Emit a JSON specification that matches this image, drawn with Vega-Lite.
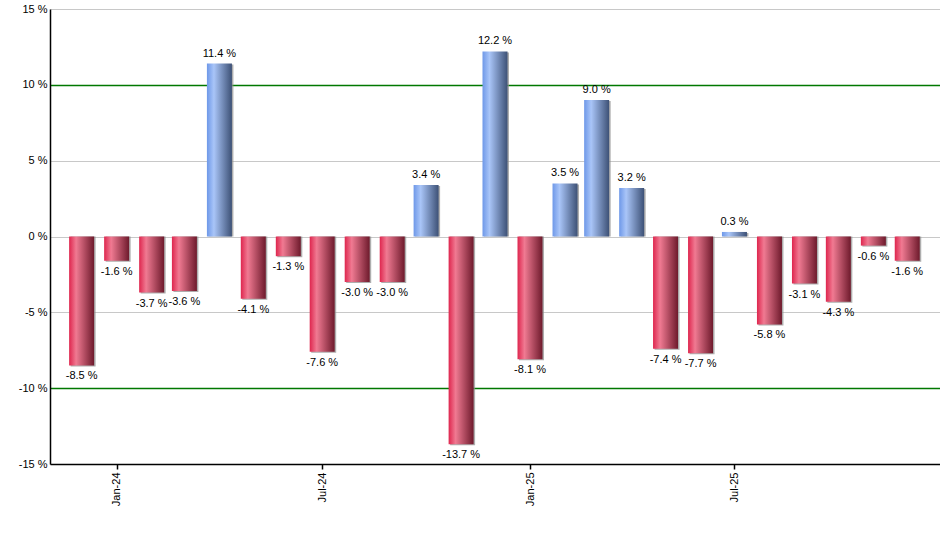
{
  "$schema": "https://vega.github.io/schema/vega-lite/v6.json",
  "description": "Monthly returns, Dec 2023 to Dec 2025.",
  "width": 890,
  "height": 455,
  "autosize": {"type": "none"},
  "padding": {"left": 50, "top": 9, "right": 0, "bottom": 86},
  "data": {
    "values": [
      {"date": "2023-12-01", "v": -8.5},
      {"date": "2024-01-01", "v": -1.6},
      {"date": "2024-02-01", "v": -3.7},
      {"date": "2024-03-01", "v": -3.6},
      {"date": "2024-04-01", "v": 11.4},
      {"date": "2024-05-01", "v": -4.1},
      {"date": "2024-06-01", "v": -1.3},
      {"date": "2024-07-01", "v": -7.6},
      {"date": "2024-08-01", "v": -3.0},
      {"date": "2024-09-01", "v": -3.0},
      {"date": "2024-10-01", "v": 3.4},
      {"date": "2024-11-01", "v": -13.7},
      {"date": "2024-12-01", "v": 12.2},
      {"date": "2025-01-01", "v": -8.1},
      {"date": "2025-02-01", "v": 3.5},
      {"date": "2025-03-01", "v": 9.0},
      {"date": "2025-04-01", "v": 3.2},
      {"date": "2025-05-01", "v": -7.4},
      {"date": "2025-06-01", "v": -7.7},
      {"date": "2025-07-01", "v": 0.3},
      {"date": "2025-08-01", "v": -5.8},
      {"date": "2025-09-01", "v": -3.1},
      {"date": "2025-10-01", "v": -4.3},
      {"date": "2025-11-01", "v": -0.6},
      {"date": "2025-12-01", "v": -1.6}
    ],
    "format": {"parse": {"date": "date"}}
  },
  "encoding": {
    "x": {
      "field": "date",
      "type": "temporal",
      "scale": {
        "type": "utc",
        "padding": 0,
        "domain": [
          {"year": 2023, "month": 11, "date": 3, "utc": true},
          {"year": 2025, "month": 12, "date": 30, "utc": true}
        ]
      },
      "axis": {
        "title": null,
        "values": [
          {"year": 2024, "month": 1, "date": 1, "utc": true},
          {"year": 2024, "month": 7, "date": 1, "utc": true},
          {"year": 2025, "month": 1, "date": 1, "utc": true},
          {"year": 2025, "month": 7, "date": 1, "utc": true}
        ],
        "format": "%b-%y",
        "labelAngle": -90,
        "labelAlign": "right",
        "labelBaseline": "middle",
        "labelPadding": 3,
        "tickSize": 5,
        "grid": false
      }
    },
    "y": {
      "field": "v",
      "type": "quantitative",
      "scale": {"domain": [-15, 15], "nice": false, "padding": 0},
      "axis": {
        "title": null,
        "values": [-15, -10, -5, 0, 5, 10, 15],
        "labelExpr": "datum.value + ' %'",
        "ticks": false,
        "labelPadding": 3,
        "grid": true,
        "gridColor": {"condition": {"test": "abs(datum.value) == 10", "value": "#007800"}, "value": "#c8c8c8"},
        "gridWidth": {"condition": {"test": "abs(datum.value) == 10", "value": 1.5}, "value": 1}
      }
    }
  },
  "layer": [
    {
      "mark": {"type": "bar", "width": 25, "color": "#8c8c8c", "opacity": 0.7, "xOffset": 1.5, "yOffset": 1},
      "encoding": {"y2": {"datum": 0}}
    },
    {
      "transform": [{"filter": "datum.v >= 0"}],
      "mark": {
        "type": "bar",
        "width": 25,
        "color": {
          "gradient": "linear", "x1": 0, "y1": 0, "x2": 1, "y2": 0,
          "stops": [
            {"offset": 0, "color": "#6e98e8"},
            {"offset": 0.28, "color": "#a9c5f8"},
            {"offset": 1, "color": "#3d5176"}
          ]
        }
      },
      "encoding": {"y2": {"datum": 0}}
    },
    {
      "transform": [{"filter": "datum.v < 0"}],
      "mark": {
        "type": "bar",
        "width": 25,
        "color": {
          "gradient": "linear", "x1": 0, "y1": 0, "x2": 1, "y2": 0,
          "stops": [
            {"offset": 0, "color": "#de264e"},
            {"offset": 0.28, "color": "#f07a92"},
            {"offset": 1, "color": "#6e1a2c"}
          ]
        }
      },
      "encoding": {"y2": {"datum": 0}}
    },
    {
      "transform": [{"filter": "datum.v >= 0"}],
      "mark": {
        "type": "text",
        "baseline": "bottom",
        "dy": -5,
        "font": "Liberation Sans",
        "fontSize": 11,
        "color": "black",
        "text": {"expr": "(datum.v < 0 ? '-' : '') + format(abs(datum.v), '.1f') + ' %'"}
      }
    },
    {
      "transform": [{"filter": "datum.v < 0"}],
      "mark": {
        "type": "text",
        "baseline": "top",
        "dy": 5,
        "font": "Liberation Sans",
        "fontSize": 11,
        "color": "black",
        "text": {"expr": "(datum.v < 0 ? '-' : '') + format(abs(datum.v), '.1f') + ' %'"}
      }
    }
  ],
  "config": {
    "view": {"stroke": null},
    "axis": {
      "labelFont": "Liberation Sans",
      "labelFontSize": 11,
      "labelColor": "black",
      "domainColor": "black",
      "domainWidth": 1.5,
      "tickColor": "black",
      "tickWidth": 1.5
    }
  }
}
